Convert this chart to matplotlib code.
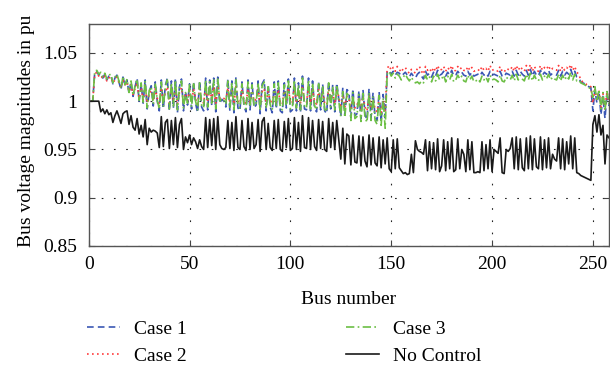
import numpy as np
import matplotlib
matplotlib.use("Agg")
import matplotlib.pyplot as plt
from matplotlib.ticker import FuncFormatter

# bus voltage magnitudes (pu), bus 1 .. 258
no_control = [
    1.000, 1.000, 1.000, 1.000, 1.000, 0.989, 0.992, 0.987, 0.991, 0.986,
    0.988, 0.978, 0.985, 0.990, 0.984, 0.977, 0.987, 0.989, 0.990, 0.976,
    0.985, 0.973, 0.970, 0.982, 0.966, 0.975, 0.963, 0.981, 0.955, 0.972,
    0.968, 0.970, 0.969, 0.967, 0.952, 0.984, 0.953, 0.978, 0.981, 0.951,
    0.980, 0.955, 0.983, 0.952, 0.976, 0.982, 0.950, 0.963, 0.957, 0.965,
    0.955, 0.962, 0.958, 0.951, 0.960, 0.953, 0.950, 0.983, 0.952, 0.981,
    0.954, 0.982, 0.950, 0.984, 0.955, 0.951, 0.950, 0.952, 0.980, 0.951,
    0.978, 0.949, 0.984, 0.952, 0.950, 0.980, 0.953, 0.949, 0.982, 0.950,
    0.978, 0.951, 0.955, 0.981, 0.948, 0.979, 0.983, 0.950, 0.977, 0.952,
    0.949, 0.980, 0.951, 0.981, 0.950, 0.948, 0.979, 0.952, 0.982, 0.949,
    0.951, 0.983, 0.950, 0.978, 0.948, 0.985, 0.952, 0.951, 0.983, 0.950,
    0.980, 0.953, 0.949, 0.981, 0.951, 0.979, 0.950, 0.948, 0.982, 0.952,
    0.978, 0.950, 0.980, 0.960, 0.940, 0.972, 0.935, 0.966, 0.964, 0.934,
    0.965, 0.937, 0.936, 0.964, 0.933, 0.963, 0.938, 0.932, 0.965, 0.934,
    0.962, 0.936, 0.933, 0.963, 0.931, 0.960, 0.935, 0.962, 0.930, 0.927,
    0.960, 0.930, 0.961, 0.931, 0.928, 0.925, 0.926, 0.924, 0.925, 0.945,
    0.926, 0.959, 0.950, 0.948, 0.947, 0.945, 0.960, 0.928, 0.958, 0.930,
    0.957, 0.929, 0.961, 0.927, 0.933, 0.960, 0.928, 0.958, 0.930, 0.962,
    0.927, 0.929, 0.961, 0.930, 0.950, 0.945, 0.927, 0.960, 0.929, 0.958,
    0.926, 0.926, 0.927, 0.926, 0.958, 0.928, 0.955, 0.930, 0.960, 0.927,
    0.950, 0.948, 0.946, 0.962, 0.926, 0.925, 0.950, 0.948, 0.951, 0.962,
    0.930, 0.963, 0.929, 0.961, 0.931, 0.928, 0.962, 0.930, 0.964, 0.929,
    0.961, 0.932, 0.930, 0.963, 0.929, 0.960, 0.931, 0.962, 0.930, 0.945,
    0.940, 0.938, 0.962, 0.930, 0.961, 0.929, 0.958, 0.935, 0.964, 0.930,
    0.962, 0.926, 0.925, 0.923, 0.922, 0.921, 0.920, 0.919, 0.918, 0.976,
    0.985, 0.968, 0.986, 0.965, 0.975, 0.935, 0.965, 0.962,
]

case1 = [
    1.000, 1.000, 1.030, 1.031, 1.027, 1.029, 1.024, 1.028, 1.022, 1.026,
    1.027, 1.018, 1.024, 1.027, 1.020, 1.012, 1.025, 1.016, 1.022, 1.008,
    1.020, 1.005, 1.015, 1.024, 1.000, 1.018, 0.998, 1.022, 0.992, 1.010,
    1.016, 0.995, 1.020, 1.000, 0.990, 1.022, 0.992, 1.016, 1.024, 0.990,
    1.021, 0.993, 1.024, 0.988, 1.015, 1.023, 0.990, 1.010, 0.996, 1.018,
    0.992, 1.020, 0.998, 0.988, 1.021, 0.994, 0.990, 1.024, 0.991, 1.022,
    0.996, 1.024, 0.989, 1.025, 0.998, 1.002, 1.000, 0.994, 1.023, 0.990,
    1.021, 0.988, 1.025, 0.993, 0.990, 1.020, 0.995, 0.989, 1.022, 0.991,
    1.019, 0.993, 0.996, 1.021, 0.987, 1.018, 1.022, 0.990, 1.017, 0.994,
    0.988, 1.020, 0.992, 1.021, 0.990, 0.988, 1.019, 0.993, 1.023, 0.989,
    0.991, 1.024, 0.990, 1.019, 0.988, 1.026, 0.992, 0.991, 1.024, 0.990,
    1.021, 0.993, 0.989, 1.020, 0.991, 1.018, 0.990, 0.987, 1.021, 0.992,
    1.017, 0.989, 1.019, 1.002, 0.984, 1.014, 0.986, 1.012, 1.010, 0.983,
    1.013, 0.985, 0.987, 1.011, 0.982, 1.012, 0.986, 0.981, 1.013, 0.983,
    1.009, 0.984, 0.980, 1.010, 0.979, 1.007, 0.983, 1.030, 1.032, 1.028,
    1.031, 1.027, 1.030, 1.029, 1.026, 1.028, 1.030, 1.027, 1.025, 1.029,
    1.026, 1.024, 1.028, 1.030, 1.026, 1.023, 1.031, 1.027, 1.029, 1.025,
    1.030, 1.026, 1.032, 1.027, 1.028, 1.031, 1.026, 1.030, 1.027, 1.032,
    1.026, 1.027, 1.031, 1.028, 1.030, 1.027, 1.026, 1.031, 1.027, 1.030,
    1.026, 1.027, 1.028, 1.026, 1.030, 1.027, 1.029, 1.026, 1.031, 1.027,
    1.028, 1.027, 1.026, 1.031, 1.026, 1.025, 1.029, 1.028, 1.027, 1.031,
    1.026, 1.032, 1.027, 1.031, 1.028, 1.026, 1.032, 1.027, 1.033, 1.026,
    1.031, 1.027, 1.026, 1.032, 1.027, 1.030, 1.028, 1.032, 1.027, 1.029,
    1.028, 1.027, 1.032, 1.026, 1.031, 1.027, 1.030, 1.028, 1.033, 1.027,
    1.031, 1.025, 1.024, 1.020, 1.019, 1.018, 1.016, 1.015, 1.014, 0.990,
    1.012, 0.998, 1.010, 0.986, 1.005, 0.982, 1.008, 0.995,
]

case2 = [
    1.000, 1.000, 1.028, 1.030, 1.026, 1.027, 1.023, 1.026, 1.021, 1.024,
    1.025, 1.019, 1.022, 1.025, 1.019, 1.014, 1.022, 1.017, 1.020, 1.010,
    1.017, 1.007, 1.013, 1.019, 1.003, 1.014, 1.001, 1.016, 0.998, 1.008,
    1.011, 1.000, 1.013, 1.003, 0.997, 1.014, 0.999, 1.010, 1.015, 0.998,
    1.013, 1.000, 1.015, 0.997, 1.009, 1.014, 0.998, 1.006, 1.001, 1.011,
    0.999, 1.012, 1.002, 0.997, 1.013, 1.000, 0.998, 1.015, 0.999, 1.014,
    1.001, 1.015, 0.998, 1.016, 1.003, 1.004, 1.003, 1.000, 1.014, 0.998,
    1.013, 0.997, 1.015, 1.000, 0.998, 1.012, 1.001, 0.997, 1.013, 0.999,
    1.011, 1.000, 1.002, 1.012, 0.996, 1.010, 1.013, 0.998, 1.010, 1.001,
    0.997, 1.012, 0.999, 1.012, 0.998, 0.997, 1.011, 1.000, 1.014, 0.998,
    0.999, 1.015, 0.998, 1.011, 0.997, 1.016, 1.000, 0.999, 1.015, 0.998,
    1.012, 1.000, 0.997, 1.012, 0.999, 1.010, 0.998, 0.996, 1.012, 1.000,
    1.009, 0.997, 1.011, 1.005, 0.993, 1.007, 0.994, 1.005, 1.003, 0.992,
    1.006, 0.993, 0.995, 1.004, 0.991, 1.005, 0.994, 0.990, 1.006, 0.992,
    1.002, 0.992, 0.989, 1.003, 0.988, 1.000, 0.990, 1.034, 1.037, 1.032,
    1.035, 1.031, 1.036, 1.033, 1.030, 1.034, 1.035, 1.031, 1.029, 1.033,
    1.031, 1.029, 1.034, 1.036, 1.031, 1.028, 1.036, 1.032, 1.034, 1.030,
    1.035, 1.031, 1.037, 1.032, 1.033, 1.036, 1.031, 1.035, 1.032, 1.037,
    1.031, 1.032, 1.036, 1.033, 1.035, 1.032, 1.031, 1.036, 1.032, 1.035,
    1.031, 1.032, 1.033, 1.031, 1.036, 1.032, 1.034, 1.031, 1.037, 1.032,
    1.033, 1.032, 1.031, 1.036, 1.031, 1.030, 1.034, 1.033, 1.032, 1.036,
    1.031, 1.037, 1.032, 1.036, 1.033, 1.031, 1.037, 1.032, 1.038, 1.031,
    1.036, 1.032, 1.031, 1.037, 1.032, 1.035, 1.033, 1.037, 1.032, 1.034,
    1.033, 1.032, 1.037, 1.031, 1.036, 1.032, 1.035, 1.033, 1.038, 1.032,
    1.036, 1.030, 1.028, 1.022, 1.020, 1.019, 1.017, 1.016, 1.015, 0.998,
    1.012, 1.002, 1.011, 0.994, 1.008, 0.992, 1.010, 1.000,
]

case3 = [
    1.000, 1.000, 1.031, 1.032, 1.028, 1.030, 1.025, 1.029, 1.023, 1.027,
    1.028, 1.019, 1.025, 1.028, 1.021, 1.013, 1.026, 1.017, 1.023, 1.009,
    1.021, 1.006, 1.016, 1.023, 1.001, 1.019, 0.999, 1.021, 0.993, 1.011,
    1.015, 0.997, 1.019, 1.001, 0.992, 1.020, 0.994, 1.015, 1.022, 0.992,
    1.019, 0.995, 1.022, 0.991, 1.014, 1.021, 0.993, 1.009, 0.998, 1.017,
    0.994, 1.018, 1.000, 0.991, 1.019, 0.996, 0.993, 1.022, 0.994, 1.020,
    0.998, 1.022, 0.992, 1.023, 1.000, 1.003, 1.001, 0.997, 1.021, 0.993,
    1.019, 0.991, 1.023, 0.995, 0.993, 1.018, 0.997, 0.992, 1.020, 0.994,
    1.017, 0.995, 0.998, 1.019, 0.990, 1.016, 1.020, 0.993, 1.015, 0.996,
    0.991, 1.018, 0.994, 1.019, 0.993, 0.991, 1.017, 0.995, 1.021, 0.992,
    0.993, 1.022, 0.993, 1.017, 0.991, 1.024, 0.994, 0.993, 1.022, 0.992,
    1.019, 0.995, 0.991, 1.018, 0.993, 1.016, 0.992, 0.989, 1.019, 0.994,
    1.015, 0.991, 1.017, 1.000, 0.984, 1.010, 0.983, 1.008, 1.006, 0.980,
    1.009, 0.982, 0.984, 1.007, 0.979, 1.008, 0.983, 0.978, 1.009, 0.980,
    1.005, 0.980, 0.976, 1.006, 0.975, 1.003, 0.972, 1.028, 1.031, 1.026,
    1.029, 1.024, 1.028, 1.026, 1.022, 1.025, 1.028, 1.024, 1.021, 1.025,
    1.021, 1.019, 1.020, 1.018, 1.021, 1.019, 1.027, 1.022, 1.025, 1.020,
    1.026, 1.021, 1.028, 1.022, 1.023, 1.027, 1.020, 1.026, 1.022, 1.028,
    1.020, 1.022, 1.027, 1.023, 1.026, 1.021, 1.020, 1.027, 1.022, 1.026,
    1.020, 1.021, 1.023, 1.020, 1.026, 1.022, 1.025, 1.020, 1.027, 1.022,
    1.023, 1.022, 1.020, 1.027, 1.021, 1.020, 1.025, 1.023, 1.022, 1.027,
    1.021, 1.028, 1.022, 1.027, 1.023, 1.021, 1.028, 1.022, 1.029, 1.021,
    1.027, 1.022, 1.021, 1.028, 1.022, 1.026, 1.023, 1.028, 1.022, 1.025,
    1.023, 1.022, 1.028, 1.021, 1.027, 1.022, 1.026, 1.023, 1.030, 1.022,
    1.028, 1.021, 1.022, 1.019, 1.018, 1.017, 1.015, 1.014, 1.013, 1.004,
    1.015, 1.000, 1.012, 0.992, 1.009, 0.990, 1.010, 0.997,
]

labels = ["Case 1", "Case 2", "Case 3", "No Control"]
xticks = [0, 50, 100, 150, 200, 250]
yticks = [0.85, 0.9, 0.95, 1.0, 1.05]

plt.rcParams["font.family"] = ["Liberation Serif", "DejaVu Serif"]
plt.rcParams["font.size"] = 14

fig = plt.figure(figsize=(6.1, 3.79), dpi=100)
ax = fig.add_axes([0.1454, 0.351, 0.853, 0.5857])

def bus(v):
    return np.arange(1, len(v) + 1)

ax.plot(bus(case1), case1, color="#3b57b4", lw=1.2, ls=(0, (4, 2.5)), label=labels[0])
ax.plot(bus(case2), case2, color="#ff3b3b", lw=1.2, ls=(0, (1, 2)), label=labels[1])
ax.plot(bus(case3), case3, color="#6cbf45", lw=1.2, ls=(0, (5, 2, 1, 2)), label=labels[2])
ax.plot(bus(no_control), no_control, color="#1a1a1a", lw=1.2, label=labels[3])

ax.set_xlim(0, 258)
ax.set_ylim(0.85, 1.08)
ax.set_xticks(xticks)
ax.set_yticks(yticks)
ax.yaxis.set_major_formatter(FuncFormatter(lambda v, p: "%g" % v))
ax.grid(True, color="#222222", lw=0.8, ls=(0, (1.5, 9.5)))
ax.tick_params(direction="in", length=4, top=True, right=True, color="#444444",
               labelsize=14)
ax.tick_params(axis="x", pad=7)
ax.tick_params(axis="y", pad=8)
for s in ax.spines.values():
    s.set_color("#555555")
    s.set_linewidth(1.0)

ax.set_xlabel("Bus number", fontsize=14, labelpad=13)
ax.set_ylabel("Bus voltage magnitudes in pu", fontsize=14)
ax.yaxis.set_label_coords(-0.104, 0.52)

fig.legend(loc="upper left", bbox_to_anchor=(0.143, 0.154), ncol=2, frameon=False,
           borderpad=0, borderaxespad=0, handlelength=1.7, handletextpad=0.7,
           columnspacing=8.2, labelspacing=0.48, fontsize=14)

fig.savefig("out.png", dpi=100)
